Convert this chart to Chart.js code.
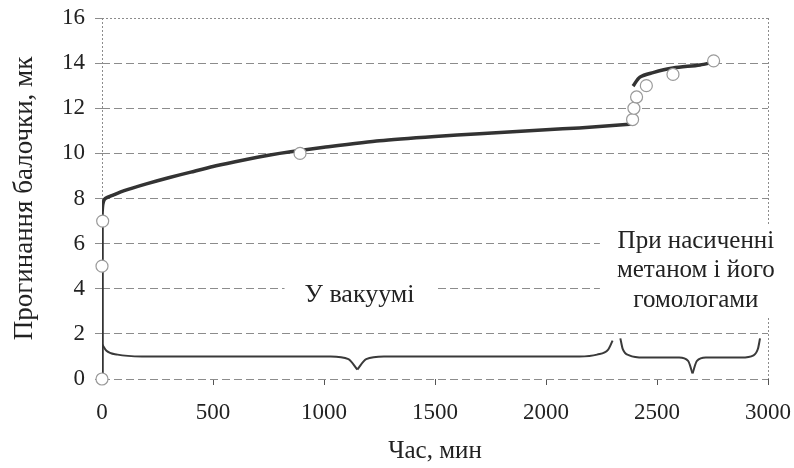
<!DOCTYPE html>
<html>
<head>
<meta charset="utf-8">
<script src="https://cdn.jsdelivr.net/npm/chart.js@4"></script>
<style>
  html, body { margin: 0; padding: 0; background: #ffffff; }
  #wrap { width: 794px; height: 468px; }
</style>
</head>
<body>
<div id="wrap"><canvas id="c" width="794" height="468"></canvas></div>
<script>
// ---- data ----
// main curve, vacuum stage (time, min -> deflection, mk)
const vacuumX = [0, 0, 2, 6, 15, 50, 100, 200, 300, 400, 500, 600, 700, 800, 900, 1000, 1250, 1500, 1700, 2000, 2150, 2390];
const vacuumY = [0, 7.2, 7.6, 7.85, 8.0, 8.15, 8.35, 8.65, 8.92, 9.17, 9.42, 9.63, 9.83, 10.0, 10.14, 10.27, 10.56, 10.75, 10.87, 11.05, 11.13, 11.3];
// main curve, methane saturation stage
const methaneX = [2392, 2423, 2482, 2572, 2694, 2752];
const methaneY = [12.98, 13.38, 13.58, 13.78, 13.92, 14.04];
// measured points (open circles)
const markerX = [0, 0, 3, 892, 2390, 2396, 2408, 2452, 2572, 2755];
const markerY = [0, 5, 7, 10, 11.5, 12.0, 12.5, 13.0, 13.5, 14.1];
// braces marking the two stages
const brace1aX = [0, 20, 70, 180, 1030, 1110, 1150];
const brace1aY = [1.55, 1.25, 1.08, 1.0, 1.0, 0.88, 0.42];
const brace1bX = [1150, 1190, 1270, 2150, 2230, 2280, 2300];
const brace1bY = [0.42, 0.88, 1.0, 1.0, 1.08, 1.3, 1.7];
const brace2aX = [2335, 2345, 2375, 2440, 2600, 2640, 2660];
const brace2aY = [1.8, 1.35, 1.05, 0.95, 0.95, 0.8, 0.25];
const brace2bX = [2660, 2680, 2720, 2880, 2935, 2955, 2964];
const brace2bY = [0.25, 0.8, 0.95, 0.95, 1.05, 1.35, 1.8];
// tick labels
const xTicks = [0, 500, 1000, 1500, 2000, 2500, 3000];
const yTicks = [0, 2, 4, 6, 8, 10, 12, 14, 16];
// texts
const xTitle = 'Час, мин';
const yTitle = 'Прогинання балочки, мк';
const vacuumLabel = ['У вакуумі'];
const methaneLabel = ['При насиченні', 'метаном і його', 'гомологами'];

// ---- helpers ----
const pts = (xs, ys) => xs.map((x, i) => ({ x: x, y: ys[i] }));
const FONT = '"Liberation Serif", "Times New Roman", serif';
const INK = '#222222';

// text annotations anchored in data units (white boxes behind, as in the source)
const notes = [
  { lines: vacuumLabel, x: 1160, y: 3.7, size: 26, step: 0, padX: 20, padY: 14 },
  { lines: methaneLabel, x: 2675, y: 6.1, size: 25, step: 1.3, padX: 17, padY: 17 }
];

const bgAndNotes = {
  id: 'bgAndNotes',
  beforeDraw(chart) {
    const ctx = chart.ctx;
    ctx.save();
    ctx.fillStyle = '#ffffff';
    ctx.fillRect(0, 0, chart.width, chart.height);
    ctx.restore();
  },
  afterDatasetsDraw(chart) {
    const ctx = chart.ctx;
    const xs = chart.scales.x, ys = chart.scales.y;
    ctx.save();
    ctx.textAlign = 'center';
    ctx.textBaseline = 'middle';
    notes.forEach(n => {
      ctx.font = n.size + 'px ' + FONT;
      const cx = xs.getPixelForValue(n.x);
      const yFirst = ys.getPixelForValue(n.y);
      const yLast = ys.getPixelForValue(n.y - (n.lines.length - 1) * n.step);
      const w = Math.max.apply(null, n.lines.map(t => ctx.measureText(t).width));
      ctx.fillStyle = '#ffffff';
      ctx.fillRect(cx - w / 2 - n.padX, yFirst - n.padY, w + 2 * n.padX, yLast - yFirst + 2 * n.padY);
      ctx.fillStyle = INK;
      n.lines.forEach((t, i) => {
        ctx.fillText(t, cx, ys.getPixelForValue(n.y - i * n.step));
      });
    });
    ctx.restore();
  }
};

const braceStyle = { borderColor: '#3a3a3a', borderWidth: 2, pointRadius: 0, cubicInterpolationMode: 'monotone', fill: false, order: 3 };

new Chart(document.getElementById('c'), {
  type: 'line',
  data: {
    datasets: [
      { data: pts(markerX, markerY), showLine: false, pointRadius: 6, pointBackgroundColor: '#ffffff',
        pointBorderColor: '#9a9a9a', pointBorderWidth: 1.2, clip: false, order: 0 },
      { data: pts(vacuumX, vacuumY), borderColor: '#333333', borderWidth: 3.5, pointRadius: 0, tension: 0.2, order: 1 },
      { data: pts(methaneX, methaneY), borderColor: '#333333', borderWidth: 3.5, pointRadius: 0, tension: 0.3, order: 1 },
      Object.assign({ data: pts(brace1aX, brace1aY) }, braceStyle),
      Object.assign({ data: pts(brace1bX, brace1bY) }, braceStyle),
      Object.assign({ data: pts(brace2aX, brace2aY) }, braceStyle),
      Object.assign({ data: pts(brace2bX, brace2bY) }, braceStyle)
    ]
  },
  options: {
    responsive: false,
    animation: false,
    devicePixelRatio: 1,
    layout: { padding: { left: 0, right: 26, top: 18, bottom: 0 } },
    plugins: { legend: { display: false }, tooltip: { enabled: false } },
    scales: {
      x: {
        type: 'linear', min: 0, max: 3000,
        afterBuildTicks(s) { s.ticks = xTicks.map(v => ({ value: v })); },
        afterFit(s) { s.height = 89; s.paddingLeft = 0; s.paddingRight = 0; },
        ticks: { color: INK, font: { family: FONT, size: 23 }, padding: 14, maxRotation: 0, callback: v => String(v) },
        grid: {
          color: c => (c.tick && (c.tick.value === 0 || c.tick.value === 3000)) ? '#8c8c8c' : 'rgba(0,0,0,0)',
          tickColor: '#555555', tickLength: 6, lineWidth: 1
        },
        border: { display: false, dash: [2, 2] },
        title: { display: true, text: xTitle, color: INK, font: { family: FONT, size: 25, lineHeight: 1 }, padding: { top: 0, bottom: 4 } }
      },
      y: {
        min: 0, max: 16,
        afterBuildTicks(s) { s.ticks = yTicks.map(v => ({ value: v })); },
        afterFit(s) { s.width = 102; s.paddingTop = 0; s.paddingBottom = 0; },
        ticks: { color: INK, font: { family: FONT, size: 23 }, padding: 10, callback: v => String(v) },
        grid: { color: '#8c8c8c', tickColor: '#8c8c8c', tickLength: 7, lineWidth: 1 },
        border: { display: false, dash: c => (c.tick && c.tick.value === 16) ? [2, 2] : [8, 4] },
        title: { display: true, text: yTitle, color: INK, font: { family: FONT, size: 27, lineHeight: 1 }, padding: { top: 11, bottom: 0 } }
      }
    }
  },
  plugins: [bgAndNotes]
});
</script>
</body>
</html>
